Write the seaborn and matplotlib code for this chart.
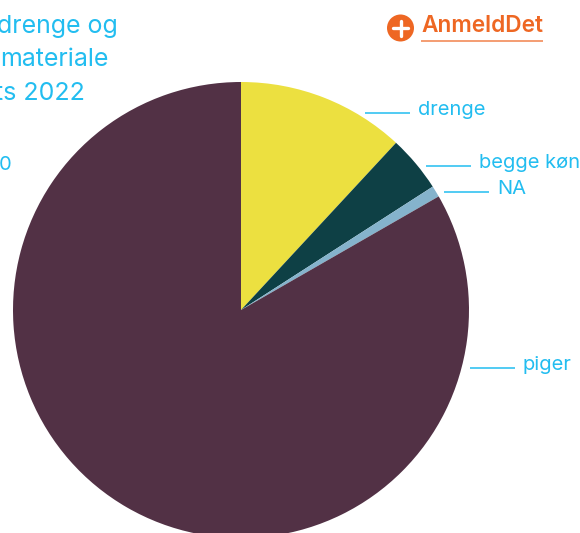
import numpy as np
import matplotlib
matplotlib.use("Agg")
import matplotlib.pyplot as plt
import seaborn as sns

categories = ["drenge", "begge køn", "NA", "piger"]
shares = [11.9, 4.0, 0.8, 83.3]
colors = ["#ece040", "#0e4045", "#85b3cc", "#523145"]
title_lines = ["drenge og", "materiale", "ts 2022"]
subtitle = "0"
brand = "AnmeldDet"

BLUE = "#22bdf0"
ORANGE = "#ee6723"
W, H = 580, 533


def Y(y):
    return H - y


sns.set_theme(style="white")
plt.rcParams["font.family"] = ["Inter", "DejaVu Sans"]

fig = plt.figure(figsize=(W / 100, H / 100), dpi=100, facecolor="white")
ax = fig.add_axes([0, 0, 1, 1])
ax.pie(shares, colors=colors, startangle=90, counterclock=False,
       center=(241, Y(310)), radius=228, frame=True, wedgeprops={"linewidth": 0})
ax.set_xlim(0, W)
ax.set_ylim(0, H)
ax.set_aspect("equal")
ax.axis("off")

# leader start, leader end, leader y
leaders = [(365, 410, 113), (426, 471, 166), (444, 489, 192), (470, 515, 368)]
for name, (x0, x1, y) in zip(categories, leaders):
    ax.plot([x0, x1], [Y(y), Y(y)], color=BLUE, lw=1.1, solid_capstyle="butt")
    ax.text(x1 + 8, Y(y - 3), name, color=BLUE, fontsize=14.5, va="center", ha="left", fontweight="normal")

for line, y, xe in zip(title_lines, [27, 60, 94], [118, 109, 85]):
    ax.text(xe, Y(y), line, color=BLUE, fontsize=18, va="center", ha="right", fontweight="normal")
ax.text(12, Y(165), subtitle, color=BLUE, fontsize=14.5, va="center", ha="right", fontweight="normal")

ax.add_patch(plt.Circle((400.5, Y(28)), 13.5, color=ORANGE, lw=0))
ax.plot([393, 408], [Y(28), Y(28)], color="white", lw=2.4, solid_capstyle="round")
ax.plot([400.5, 400.5], [Y(20.5), Y(35.5)], color="white", lw=2.4, solid_capstyle="round")
ax.text(421, Y(26), brand, color=ORANGE, fontsize=16.3, fontweight="semibold", va="center", ha="left")
ax.plot([421, 543], [Y(41), Y(41)], color=ORANGE, lw=1.2, alpha=0.75, solid_capstyle="butt")

fig.savefig("out.png", dpi=100, facecolor="white")
